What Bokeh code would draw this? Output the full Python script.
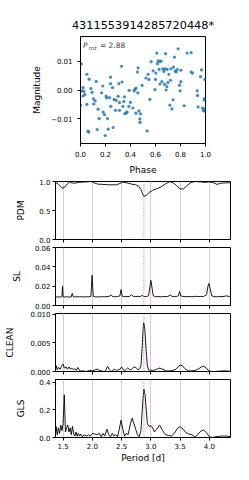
from bokeh.plotting import figure
from bokeh.layouts import column
from bokeh.models import Range1d, FixedTicker, PrintfTickFormatter, CustomJSTickFormatter, Span, Label
from bokeh.embed import file_html
from bokeh.resources import INLINE

FONT = "DejaVu Sans"

title_text = "4311553914285720448*"
p_rot = 2.88

phase = [0.006, 0.000, 0.021, 0.011, 0.027, 0.021, 0.035, 0.051, 0.069, 0.051,
         0.059, 0.067, 0.083, 0.093, 0.104, 0.107, 0.117, 0.125, 0.133, 0.141,
         0.149, 0.168, 0.179, 0.181, 0.192, 0.197, 0.205, 0.208, 0.216, 0.221,
         0.232, 0.240, 0.240, 0.243, 0.256, 0.261, 0.269, 0.280, 0.285, 0.301,
         0.307, 0.312, 0.312, 0.328, 0.333, 0.339, 0.347, 0.352, 0.355, 0.365,
         0.373, 0.387, 0.389, 0.400, 0.419, 0.429, 0.437, 0.443, 0.445, 0.456,
         0.459, 0.461, 0.467, 0.475, 0.477, 0.480, 0.493, 0.523, 0.533, 0.541,
         0.547, 0.555, 0.565, 0.581, 0.595, 0.600, 0.603, 0.611, 0.616, 0.621,
         0.629, 0.635, 0.635, 0.645, 0.651, 0.659, 0.667, 0.672, 0.677, 0.680,
         0.685, 0.691, 0.693, 0.699, 0.707, 0.715, 0.720, 0.723, 0.731, 0.741,
         0.744, 0.752, 0.757, 0.765, 0.773, 0.781, 0.792, 0.797, 0.803, 0.803,
         0.829, 0.853, 0.885, 0.885, 0.896, 0.933, 0.936, 0.941, 0.960, 0.968,
         0.976, 0.984, 0.989, 0.992, 0.995, 0.997, 0.987]
magnitude = [0.0091, -0.0053, 0.0008, -0.0003, -0.0005, -0.0021, -0.0016, 0.0055, 0.0038, -0.0050,
             -0.0144, -0.0147, 0.0005, -0.0008, -0.0031, -0.0049, -0.0038, 0.0030, -0.0138, -0.0067,
             -0.0100, -0.0010, 0.0014, -0.0077, -0.0086, -0.0159, -0.0021, -0.0027, -0.0100, -0.0137,
             -0.0027, 0.0045, 0.0022, -0.0057, 0.0008, -0.0131, -0.0033, -0.0071, -0.0036, -0.0022,
             0.0022, -0.0044, -0.0071, 0.0083, 0.0028, -0.0057, -0.0040, -0.0024, -0.0083, -0.0080,
             -0.0077, -0.0057, -0.0001, -0.0043, -0.0063, -0.0003, 0.0003, -0.0081, 0.0007, 0.0063,
             -0.0010, 0.0077, -0.0073, -0.0101, -0.0113, -0.0083, 0.0016, 0.0042, -0.0143, 0.0055,
             0.0037, -0.0033, 0.0099, 0.0067, 0.0001, 0.0037, 0.0059, 0.0129, 0.0092, 0.0102,
             0.0072, 0.0021, 0.0100, 0.0101, 0.0029, 0.0074, 0.0065, 0.0020, 0.0074, 0.0127,
             0.0000, 0.0012, 0.0072, 0.0026, 0.0055, -0.0053, 0.0034, 0.0074, -0.0066, -0.0034,
             0.0080, 0.0115, 0.0066, 0.0063, 0.0071, 0.0144, 0.0017, -0.0003, 0.0069, 0.0029,
             -0.0055, 0.0129, 0.0131, 0.0063, 0.0059, -0.0003, -0.0019, -0.0059, 0.0047, 0.0070,
             -0.0063, -0.0071, -0.0035, -0.0030, 0.0037, -0.0065, -0.0073]

pdm_period = [1.374, 1.42, 1.46, 1.49, 1.53, 1.57, 1.61, 1.65, 1.70, 1.77, 1.85, 1.93, 1.98,
              2.03, 2.09, 2.18, 2.29, 2.41, 2.47, 2.52, 2.59, 2.67, 2.74, 2.79, 2.83, 2.86,
              2.88, 2.92, 2.97, 3.03, 3.10, 3.17, 3.25, 3.32, 3.38, 3.44, 3.50, 3.56, 3.615,
              3.68, 3.76, 3.845, 3.93, 3.99, 4.06, 4.13, 4.19, 4.28, 4.36]
pdm_theta = [0.983, 0.955, 0.91, 0.885, 0.905, 0.955, 0.99, 0.975, 0.97, 0.985, 0.99, 0.995, 1.0,
             0.977, 0.955, 0.95, 0.943, 0.943, 0.966, 0.99, 0.977, 0.955, 0.943, 0.92, 0.86, 0.78,
             0.745, 0.76, 0.81, 0.85, 0.875, 0.905, 0.96, 0.998, 0.977, 0.93, 0.87, 0.875, 0.926,
             0.983, 1.0, 0.994, 0.983, 0.994, 0.983, 0.95, 0.97, 0.977, 0.977]

sl_period = [1.37, 1.40, 1.43, 1.46, 1.48, 1.49, 1.50, 1.53, 1.56, 1.60, 1.64, 1.655, 1.67,
             1.70, 1.74, 1.78, 1.82, 1.86, 1.90, 1.94, 1.975, 1.995, 2.015, 2.05, 2.09, 2.13,
             2.17, 2.21, 2.25, 2.29, 2.32, 2.35, 2.39, 2.43, 2.47, 2.49, 2.51, 2.55, 2.59,
             2.63, 2.67, 2.70, 2.74, 2.78, 2.82, 2.85, 2.88, 2.92, 2.96, 2.985, 3.0, 3.02,
             3.04, 3.08, 3.12, 3.16, 3.20, 3.24, 3.28, 3.31, 3.33, 3.36, 3.40, 3.44, 3.47,
             3.49, 3.51, 3.55, 3.60, 3.65, 3.70, 3.75, 3.80, 3.85, 3.90, 3.95, 3.975, 3.99,
             4.01, 4.04, 4.08, 4.12, 4.16, 4.20, 4.25, 4.30, 4.33, 4.36]
sl_power = [0.0088, 0.0090, 0.0087, 0.0089, 0.0092, 0.0200, 0.0093, 0.0088, 0.0090, 0.0087,
            0.0089, 0.0125, 0.0092, 0.0088, 0.0091, 0.0089, 0.0092, 0.0088, 0.0091, 0.0090,
            0.0094, 0.0312, 0.0095, 0.0089, 0.0091, 0.0088, 0.0092, 0.0090, 0.0093, 0.0095,
            0.0110, 0.0092, 0.0090, 0.0094, 0.0098, 0.0165, 0.0096, 0.0091, 0.0094, 0.0092,
            0.0110, 0.0094, 0.0092, 0.0095, 0.0093, 0.0105, 0.0093, 0.0092, 0.0100, 0.0200,
            0.0260, 0.0180, 0.0100, 0.0091, 0.0093, 0.0090, 0.0092, 0.0094, 0.0092, 0.0100,
            0.0110, 0.0095, 0.0092, 0.0094, 0.0100, 0.0145, 0.0100, 0.0093, 0.0091, 0.0094,
            0.0090, 0.0095, 0.0092, 0.0094, 0.0093, 0.0110, 0.0200, 0.0227, 0.0180, 0.0100,
            0.0092, 0.0090, 0.0094, 0.0091, 0.0095, 0.0100, 0.0092, 0.0090]

clean_period = [1.37, 1.385, 1.40, 1.42, 1.45, 1.47, 1.50, 1.52, 1.55, 1.575, 1.60, 1.625,
                1.65, 1.675, 1.70, 1.725, 1.75, 1.78, 1.80, 1.85, 1.90, 1.95, 2.0, 2.05, 2.09,
                2.12, 2.16, 2.20, 2.23, 2.26, 2.29, 2.32, 2.35, 2.38, 2.41, 2.44, 2.47, 2.50,
                2.53, 2.56, 2.60, 2.63, 2.66, 2.69, 2.72, 2.75, 2.78, 2.81, 2.83, 2.85, 2.865,
                2.875, 2.89, 2.905, 2.92, 2.94, 2.96, 3.0, 3.05, 3.10, 3.15, 3.20, 3.26, 3.32,
                3.38, 3.43, 3.47, 3.50, 3.54, 3.58, 3.64, 3.70, 3.76, 3.82, 3.86, 3.90, 3.94,
                3.98, 4.03, 4.10, 4.20, 4.30, 4.36]
clean_power = [0.0004, 0.0010, 0.0003, 0.0007, 0.0004, 0.0009, 0.0013, 0.0006, 0.0008, 0.0004,
               0.0008, 0.0004, 0.0006, 0.0003, 0.0005, 0.0002, 0.0007, 0.0002, 0.0001, 0.0001,
               0.0000, 0.0002, 0.0001, 0.0003, 0.0004, 0.0002, 0.0001, 0.0000, 0.0002, 0.0009,
               0.0003, 0.0000, 0.0002, 0.0004, 0.0001, 0.0003, 0.0004, 0.0008, 0.0003, 0.0002,
               0.0006, 0.0004, 0.0003, 0.0006, 0.0008, 0.0006, 0.0003, 0.0005, 0.0010, 0.0040,
               0.0070, 0.0085, 0.0080, 0.0060, 0.0035, 0.0010, 0.0003, 0.0002, 0.0002, 0.0004,
               0.0006, 0.0004, 0.0001, 0.0001, 0.0002, 0.0004, 0.0009, 0.0011, 0.0010, 0.0005,
               0.0001, 0.0001, 0.0002, 0.0005, 0.0008, 0.0009, 0.0007, 0.0002, 0.0000, 0.0000,
               0.0001, 0.0001, 0.0000]

gls_period = [1.37, 1.38, 1.40, 1.42, 1.44, 1.46, 1.48, 1.50, 1.52, 1.54, 1.56, 1.58, 1.60,
              1.62, 1.64, 1.66, 1.68, 1.70, 1.72, 1.74, 1.76, 1.78, 1.80, 1.83, 1.86, 1.90,
              1.93, 1.96, 2.0, 2.04, 2.08, 2.12, 2.15, 2.18, 2.21, 2.25, 2.28, 2.31, 2.34,
              2.37, 2.40, 2.43, 2.46, 2.49, 2.52, 2.55, 2.58, 2.61, 2.65, 2.68, 2.71, 2.74,
              2.77, 2.80, 2.83, 2.86, 2.88, 2.90, 2.92, 2.94, 2.97, 3.0, 3.03, 3.06, 3.10,
              3.15, 3.20, 3.25, 3.30, 3.35, 3.40, 3.45, 3.50, 3.55, 3.60, 3.65, 3.70, 3.75,
              3.80, 3.85, 3.90, 3.95, 4.0, 4.05, 4.10, 4.20, 4.30, 4.36]
gls_power = [0.02, 0.08, 0.02, 0.07, 0.03, 0.09, 0.05, 0.10, 0.31, 0.04, 0.07, 0.09, 0.04,
             0.07, 0.02, 0.08, 0.03, 0.01, 0.04, 0.01, 0.03, 0.01, 0.025, 0.005, 0.02, 0.01,
             0.02, 0.01, 0.03, 0.025, 0.02, 0.03, 0.005, 0.03, 0.01, 0.06, 0.02, 0.005, 0.03,
             0.01, 0.02, 0.005, 0.06, 0.125, 0.06, 0.01, 0.03, 0.02, 0.10, 0.14, 0.10, 0.06,
             0.02, 0.005, 0.05, 0.25, 0.35, 0.31, 0.20, 0.10, 0.08, 0.085, 0.07, 0.04, 0.06,
             0.09, 0.05, 0.02, 0.015, 0.01, 0.03, 0.065, 0.078, 0.06, 0.035, 0.025, 0.02, 0.005,
             0.02, 0.045, 0.055, 0.035, 0.005, 0.0, 0.005, 0.01, 0.01, 0.005]

phase_ticks = [0.0, 0.2, 0.4, 0.6, 0.8, 1.0]
mag_ticks = [-0.01, 0.0, 0.01]
period_ticks = [1.5, 2.0, 2.5, 3.0, 3.5, 4.0]
panels = [
    ("PDM", pdm_period, pdm_theta, 1.0, [0.0, 0.5, 1.0], "%.1f"),
    ("SL", sl_period, sl_power, 0.06, [0.0, 0.02, 0.04, 0.06], "%.2f"),
    ("CLEAN", clean_period, clean_power, 0.0101, [0.0, 0.005, 0.010], "%.3f"),
    ("GLS", gls_period, gls_power, 0.42, [0.0, 0.2, 0.4], "%.1f"),
]


def style(p):
    p.outline_line_color = "black"
    p.outline_line_width = 1
    p.outline_line_alpha = 1.0
    p.background_fill_color = "white"
    p.border_fill_color = "white"
    for ax in p.axis:
        ax.axis_line_color = "black"
        ax.major_tick_out = 3
        ax.major_tick_in = 0
        ax.minor_tick_out = 0
        ax.minor_tick_in = 0
        ax.major_tick_line_color = "black"
        ax.major_label_text_font = FONT
        ax.major_label_text_font_size = "7px"
        ax.major_label_text_color = "black"
        ax.axis_label_text_font = FONT
        ax.axis_label_text_font_size = "9px"
        ax.axis_label_text_font_style = "normal"
        ax.axis_label_text_color = "black"


# ---- top phase-folded light curve ----
p0 = figure(frame_width=125, frame_height=107, x_range=Range1d(0, 1),
            y_range=Range1d(-0.0187, 0.0187), output_backend="svg",
            toolbar_location=None, min_border_left=80, min_border_right=36,
            min_border_top=36, min_border_bottom=33)
p0.title.text = title_text
p0.title.align = "center"
p0.title.text_font = FONT
p0.title.text_font_size = "11.3px"
p0.title.text_font_style = "normal"
p0.title.text_color = "black"
p0.title.standoff = 10
p0.scatter(phase, magnitude, size=3.2, color="#1f77b4", alpha=0.85, line_width=0)
style(p0)
p0.grid.visible = False
p0.xaxis.ticker = FixedTicker(ticks=phase_ticks)
p0.xaxis.formatter = PrintfTickFormatter(format="%.1f")
p0.yaxis.ticker = FixedTicker(ticks=mag_ticks)
p0.yaxis.formatter = CustomJSTickFormatter(
    code="return (tick < -1e-9 ? '\u2212' : '') + Math.abs(tick).toFixed(2);")
p0.xaxis.axis_label = "Phase"
p0.yaxis.axis_label = "Magnitude"
p0.xaxis.major_label_standoff = 4
p0.xaxis.axis_label_standoff = 5
p0.yaxis.major_label_standoff = 5
p0.yaxis.axis_label_standoff = 6
p0.add_layout(Label(x=0.02, y=0.0156, text="P", text_font=FONT, text_font_size="7.5px",
                    text_font_style="italic", text_baseline="middle"))
p0.add_layout(Label(x=0.066, y=0.0146, text="rot", text_font=FONT, text_font_size="5.5px",
                    text_font_style="italic", text_baseline="middle"))
p0.add_layout(Label(x=0.155, y=0.0156, text="= %.2f" % p_rot, text_font=FONT,
                    text_font_size="7.5px", text_baseline="middle"))

figs = []
xr = Range1d(1.37, 4.36)
for i, (name, xs, ys, ymax, yt, fmt) in enumerate(panels):
    last = i == len(panels) - 1
    p = figure(frame_width=175, frame_height=58, x_range=xr, y_range=Range1d(0, ymax),
               output_backend="svg", toolbar_location=None,
               min_border_left=55, min_border_right=11,
               min_border_top=4, min_border_bottom=4)
    p.line(xs, ys, line_color="black", line_width=0.9)
    p.add_layout(Span(location=p_rot, dimension="height", line_color="#ff44ff",
                      line_dash="1 2", line_width=1.2))
    style(p)
    p.ygrid.visible = False
    p.xgrid.grid_line_color = "#d0d0d0"
    p.xgrid.grid_line_width = 1
    p.xaxis.ticker = FixedTicker(ticks=period_ticks)
    p.xgrid.ticker = FixedTicker(ticks=period_ticks)
    p.yaxis.ticker = FixedTicker(ticks=yt)
    p.yaxis.formatter = PrintfTickFormatter(format=fmt)
    p.yaxis.axis_label = name
    p.yaxis.major_label_standoff = 2
    p.yaxis.axis_label_standoff = 12 if name == "CLEAN" else 10
    if last:
        p.xaxis.formatter = PrintfTickFormatter(format="%.1f")
        p.xaxis.axis_label = "Period [d]"
        p.xaxis.major_label_standoff = 2
        p.xaxis.axis_label_standoff = 1
    else:
        p.xaxis.formatter = CustomJSTickFormatter(code="return '';")
        p.xaxis.major_label_standoff = 0
    figs.append(p)

layout = column(p0, column(*figs, spacing=0), spacing=0)
open("out.html", "w").write(file_html(layout, INLINE))
